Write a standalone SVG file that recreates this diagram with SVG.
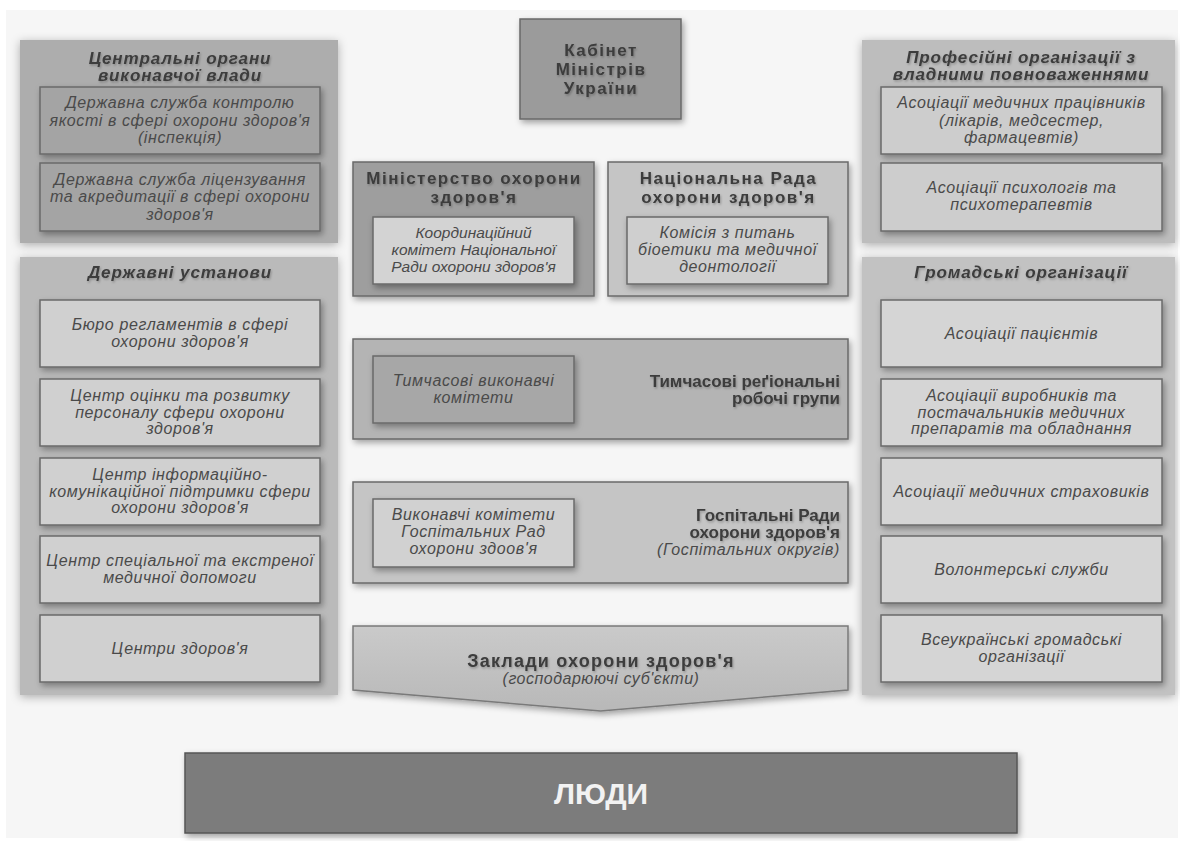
<svg xmlns="http://www.w3.org/2000/svg" width="1180" height="841" viewBox="0 0 1180 841">
<defs>
<filter id="sh" x="-10%" y="-10%" width="125%" height="130%">
<feDropShadow dx="2" dy="3" stdDeviation="3" flood-color="#000" flood-opacity="0.35"/>
</filter>
<filter id="soft" x="-10%" y="-10%" width="125%" height="125%">
<feDropShadow dx="0" dy="2" stdDeviation="5" flood-color="#000" flood-opacity="0.3"/>
</filter>
<filter id="ts" x="-5%" y="-20%" width="110%" height="150%">
<feDropShadow dx="1" dy="1.5" stdDeviation="1" flood-color="#000" flood-opacity="0.25"/>
</filter>
<linearGradient id="ag" x1="0" y1="0" x2="0" y2="1">
<stop offset="0" stop-color="#cacaca"/>
<stop offset="1" stop-color="#b8b8b8"/>
</linearGradient>
</defs>
<style>
.panel{stroke:none;filter:url(#soft)}
.box{stroke:#6a6a6a;stroke-width:1.5;filter:url(#sh)}
.it{font-family:"Liberation Sans",Arial,sans-serif;font-style:italic;font-size:16px;letter-spacing:0.6px;fill:#4a4a4a;text-anchor:middle}
.it2{font-family:"Liberation Sans",Arial,sans-serif;font-style:italic;font-size:15.5px;fill:#4a4a4a;text-anchor:middle}
.pt{font-family:"Liberation Sans",Arial,sans-serif;font-style:italic;font-weight:bold;font-size:17px;letter-spacing:0.9px;fill:#3c3c3c;text-anchor:middle;filter:url(#ts)}
.bt{font-family:"Liberation Sans",Arial,sans-serif;font-weight:bold;font-size:17px;letter-spacing:1.5px;fill:#3c3c3c;text-anchor:middle;filter:url(#ts)}
.br{font-family:"Liberation Sans",Arial,sans-serif;font-weight:bold;font-size:17px;fill:#3c3c3c;text-anchor:end;filter:url(#ts)}
.ir{font-family:"Liberation Sans",Arial,sans-serif;font-style:italic;font-size:16px;letter-spacing:0.6px;fill:#4a4a4a;text-anchor:end}
</style>
<rect x="0" y="0" width="1180" height="841" fill="#ffffff"/>
<rect x="6" y="10" width="1172" height="828" fill="#f6f6f6"/>

<g id="central-organs">
<rect class="panel" x="20" y="40" width="318" height="203" fill="#adadad"/>
<text class="pt" x="180" y="64">Центральні органи</text>
<text class="pt" x="180" y="81">виконавчої влади</text>
<g id="inspection">
<rect class="box" x="40" y="87" width="280" height="67" fill="#a4a4a4"/>
<text class="it" x="180" y="108">Державна служба контролю</text>
<text class="it" x="180" y="125.5">якості в сфері охорони здоров'я</text>
<text class="it" x="180" y="143">(інспекція)</text>
</g>
<g id="licensing">
<rect class="box" x="40" y="163" width="280" height="68" fill="#a4a4a4"/>
<text class="it" x="180" y="184.5">Державна служба ліцензування</text>
<text class="it" x="180" y="202">та акредитації в сфері охорони</text>
<text class="it" x="180" y="219.5">здоров'я</text>
</g>
</g>

<g id="state-institutions">
<rect class="panel" x="20" y="257" width="318" height="438" fill="#bababa"/>
<text class="pt" x="180" y="278">Державні установи</text>
<g id="bureau">
<rect class="box" x="40" y="300" width="280" height="67" fill="#d0d0d0"/>
<text class="it" x="180" y="330">Бюро регламентів в сфері</text>
<text class="it" x="180" y="346.5">охорони здоров'я</text>
</g>
<g id="personnel-center">
<rect class="box" x="40" y="379" width="280" height="67" fill="#d0d0d0"/>
<text class="it" x="180" y="401">Центр оцінки та розвитку</text>
<text class="it" x="180" y="417.5">персоналу сфери охорони</text>
<text class="it" x="180" y="434">здоров'я</text>
</g>
<g id="info-center">
<rect class="box" x="40" y="458" width="280" height="67" fill="#d0d0d0"/>
<text class="it" x="180" y="480">Центр інформаційно-</text>
<text class="it" x="180" y="496.5">комунікаційної підтримки сфери</text>
<text class="it" x="180" y="513">охорони здоров'я</text>
</g>
<g id="emergency-center">
<rect class="box" x="40" y="536" width="280" height="67" fill="#d0d0d0"/>
<text class="it" x="180" y="566">Центр спеціальної та екстреної</text>
<text class="it" x="180" y="582.5">медичної допомоги</text>
</g>
<g id="health-centers">
<rect class="box" x="40" y="615" width="280" height="67" fill="#d0d0d0"/>
<text class="it" x="180" y="653.5">Центри здоров'я</text>
</g>
</g>

<g id="professional-orgs">
<rect class="panel" x="862" y="40" width="313" height="203" fill="#bdbdbd"/>
<text class="pt" x="1021" y="63">Професійні організації з</text>
<text class="pt" x="1021" y="80">владними повноваженнями</text>
<g id="medical-workers">
<rect class="box" x="881" y="87" width="281" height="67" fill="#cdcdcd"/>
<text class="it" x="1021.5" y="108">Асоціації медичних працівників</text>
<text class="it" x="1021.5" y="125.5">(лікарів, медсестер,</text>
<text class="it" x="1021.5" y="143">фармацевтів)</text>
</g>
<g id="psychologists">
<rect class="box" x="881" y="163" width="281" height="68" fill="#cdcdcd"/>
<text class="it" x="1021.5" y="193">Асоціації психологів та</text>
<text class="it" x="1021.5" y="209.5">психотерапевтів</text>
</g>
</g>

<g id="public-orgs">
<rect class="panel" x="862" y="257" width="313" height="438" fill="#c2c2c2"/>
<text class="pt" x="1021" y="278">Громадські організації</text>
<g id="patients">
<rect class="box" x="881" y="300" width="281" height="67" fill="#d5d5d5"/>
<text class="it" x="1021.5" y="338.5">Асоціації пацієнтів</text>
</g>
<g id="manufacturers">
<rect class="box" x="881" y="379" width="281" height="67" fill="#d5d5d5"/>
<text class="it" x="1021.5" y="401">Асоціації виробників та</text>
<text class="it" x="1021.5" y="417.5">постачальників медичних</text>
<text class="it" x="1021.5" y="434">препаратів та обладнання</text>
</g>
<g id="insurers">
<rect class="box" x="881" y="458" width="281" height="67" fill="#d5d5d5"/>
<text class="it" x="1021.5" y="496.5">Асоціації медичних страховиків</text>
</g>
<g id="volunteers">
<rect class="box" x="881" y="536" width="281" height="67" fill="#d5d5d5"/>
<text class="it" x="1021.5" y="574.5">Волонтерські служби</text>
</g>
<g id="all-ukrainian">
<rect class="box" x="881" y="615" width="281" height="67" fill="#d5d5d5"/>
<text class="it" x="1021.5" y="645">Всеукраїнські громадські</text>
<text class="it" x="1021.5" y="661.5">організації</text>
</g>
</g>

<g id="cabinet">
<rect class="box" x="520" y="19" width="161" height="100" fill="#9b9b9b" stroke="#555"/>
<text class="bt" x="601" y="56">Кабінет</text>
<text class="bt" x="601" y="75">Міністрів</text>
<text class="bt" x="601" y="94">України</text>
</g>

<g id="ministry">
<rect class="box" x="353" y="162" width="241" height="134" fill="#9e9e9e"/>
<text class="bt" x="474" y="184">Міністерство охорони</text>
<text class="bt" x="474" y="203">здоров'я</text>
<g id="coord-committee">
<rect class="box" x="373" y="217" width="201" height="67" fill="#d3d3d3"/>
<text class="it2" x="473.5" y="238">Координаційний</text>
<text class="it2" x="473.5" y="255">комітет Національної</text>
<text class="it2" x="473.5" y="272">Ради охорони здоров'я</text>
</g>
</g>

<g id="national-council">
<rect class="box" x="608" y="162" width="240" height="134" fill="#c5c5c5"/>
<text class="bt" x="728.5" y="184">Національна Рада</text>
<text class="bt" x="728.5" y="203">охорони здоров'я</text>
<g id="bioethics">
<rect class="box" x="627" y="217" width="201" height="67" fill="#cfcfcf"/>
<text class="it" x="727.5" y="238">Комісія з питань</text>
<text class="it" x="727.5" y="255">біоетики та медичної</text>
<text class="it" x="727.5" y="272">деонтології</text>
</g>
</g>

<g id="regional-groups">
<rect class="box" x="353" y="339" width="495" height="100" fill="#b4b4b4"/>
<text class="br" x="840" y="387">Тимчасові реґіональні</text>
<text class="br" x="840" y="404">робочі групи</text>
<g id="temp-committees">
<rect class="box" x="373" y="356" width="201" height="67" fill="#a7a7a7"/>
<text class="it" x="473.5" y="386">Тимчасові виконавчі</text>
<text class="it" x="473.5" y="403">комітети</text>
</g>
</g>

<g id="hospital-councils">
<rect class="box" x="353" y="482" width="495" height="101" fill="#c5c5c5"/>
<text class="br" x="840" y="521">Госпітальні Ради</text>
<text class="br" x="840" y="538">охорони здоров'я</text>
<text class="ir" x="840" y="555">(Госпітальних округів)</text>
<g id="hospital-committees">
<rect class="box" x="373" y="499" width="201" height="68" fill="#d1d1d1"/>
<text class="it" x="473.5" y="520">Виконавчі комітети</text>
<text class="it" x="473.5" y="537">Госпітальних Рад</text>
<text class="it" x="473.5" y="554">охорони здоов'я</text>
</g>
</g>

<g id="health-facilities">
<polygon points="353,626 848,626 848,690 600.5,711 353,690" fill="url(#ag)" stroke="#7a7a7a" stroke-width="1.5" filter="url(#sh)"/>
<text class="bt" x="601" y="667" style="font-size:18px;letter-spacing:1.2px">Заклади охорони здоров'я</text>
<text class="it" x="601" y="684" style="letter-spacing:0.5px">(господарюючі суб'єкти)</text>
</g>

<g id="people">
<rect x="185" y="753" width="832" height="80" fill="#7b7b7b" stroke="#555" stroke-width="1.5" filter="url(#sh)"/>
<text x="601" y="804" font-family="'Liberation Sans',Arial,sans-serif" font-weight="bold" font-size="30" fill="#f2f2f2" text-anchor="middle">ЛЮДИ</text>
</g>

<g id="connectors"/>
</svg>
